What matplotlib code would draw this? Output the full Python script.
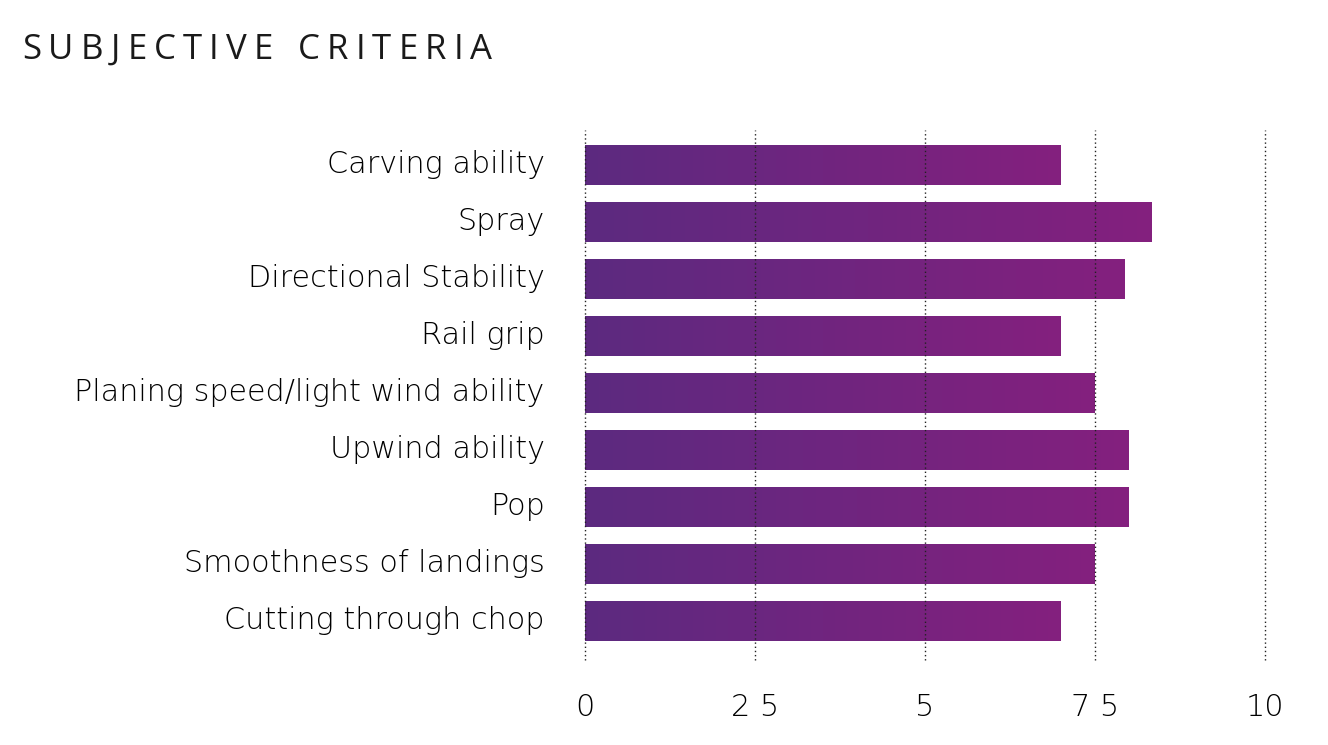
import matplotlib
matplotlib.use("Agg")
import matplotlib.pyplot as plt
import matplotlib.transforms as mtransforms
import numpy as np
from matplotlib.colors import LinearSegmentedColormap

categories = [
    "Carving ability",
    "Spray",
    "Directional Stability",
    "Rail grip",
    "Planing speed/light wind ability",
    "Upwind ability",
    "Pop",
    "Smoothness of landings",
    "Cutting through chop",
]
scores = [7.0, 8.33, 7.94, 7.0, 7.5, 8.0, 8.0, 7.5, 7.0]
tick_values = [0, 2.5, 5, 7.5, 10]
tick_labels = ["0", "2 5", "5", "7 5", "10"]
title = "SUBJECTIVE CRITERIA"

cmap = LinearSegmentedColormap.from_list("bar", ["#5c2a80", "#84207e"])
grad = np.linspace(0, 1, 256).reshape(1, -1)

fig = plt.figure(figsize=(13.28, 7.45), dpi=100)
ax = fig.add_axes([585 / 1328, 1 - 660 / 745, 680 / 1328, 530 / 745])

bar_h = 0.7
for i, v in enumerate(scores):
    ax.imshow(grad, cmap=cmap, aspect="auto", interpolation="bilinear",
              extent=[0, v, i + bar_h / 2, i - bar_h / 2], zorder=2)

for t in tick_values:
    ax.axvline(t, color="#222222", lw=1.0, ls=(0, (1, 2)), zorder=3, clip_on=False)

label_font = dict(fontfamily="DejaVu Sans", fontweight=200, fontsize=21.8, color="#000000")
ax.set_xlim(0, 10)
ax.set_ylim(len(categories) - 1 + 0.684, -0.614)
ax.set_yticks(range(len(categories)))
ax.set_yticklabels(categories, **label_font)
ax.set_xticks(tick_values)
ax.set_xticklabels(tick_labels, **label_font)
ax.tick_params(axis="y", length=0, pad=29)
ax.tick_params(axis="x", length=0, pad=0)
for s in ax.spines.values():
    s.set_visible(False)

# baselines: labels sit a little below the bar centre line
yshift = mtransforms.ScaledTranslation(0, -0.08, fig.dpi_scale_trans)
for lab in ax.get_yticklabels():
    lab.set_va("baseline")
    lab.set_transform(lab.get_transform() + yshift)
xshift = mtransforms.ScaledTranslation(0, -0.555, fig.dpi_scale_trans)
for lab in ax.get_xticklabels():
    lab.set_va("baseline")
    lab.set_transform(lab.get_transform() + xshift)

# title with letter spacing
fig.canvas.draw()
renderer = fig.canvas.get_renderer()
x = 22 / 1328
for ch in title:
    t = fig.text(x, 1 - 59 / 745, ch, fontfamily="Open Sans", fontsize=25,
                 color="#1a1a1a", va="baseline", ha="left")
    w = t.get_window_extent(renderer).width
    if ch == " ":
        w = 10
    x += (w + 7.2) / 1328

fig.savefig("out.png", dpi=100)
